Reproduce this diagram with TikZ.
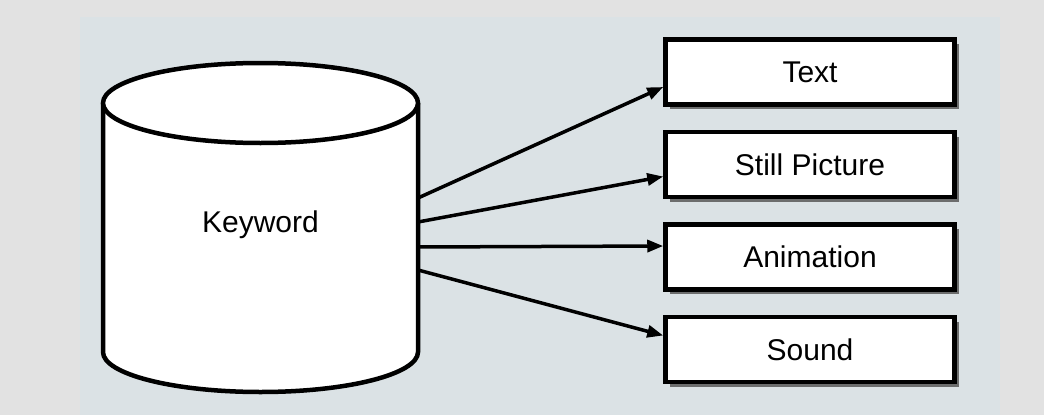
\documentclass[tikz,border=0pt]{standalone}
\usepackage{fontspec}
\setmainfont{Liberation Sans}
\usetikzlibrary{arrows.meta, positioning, calc, shadows}
\definecolor{bgout}{RGB}{226,226,226}
\definecolor{bgpanel}{RGB}{219,226,229}
\begin{document}
\begin{tikzpicture}[x=1pt, y=-1pt,
  font=\fontsize{30}{35}\selectfont,
  media/.style={rectangle, draw, line width=4.5pt, fill=white, inner sep=0pt,
                minimum width=289pt, minimum height=65pt,
                text height=21pt, text depth=0pt,
                drop shadow={shadow xshift=4.5pt, shadow yshift=-4.5pt,
                             fill=black!65, opacity=0.85}},
  arr/.style={-{Triangle[length=16pt, width=12pt]}, line width=3.5pt}]
  \useasboundingbox (0,0) rectangle (1044,415);
  \fill[bgout] (0,0) rectangle (1044,415);
  \fill[bgpanel] (80,17) rectangle (1000,415);
  % keyword store
  \draw[line width=4.5pt, fill=white] (103,103) -- (103,352)
    arc[start angle=180, end angle=360, x radius=157.5pt, y radius=40pt] -- (418,103);
  \draw[line width=4.5pt, fill=white] (260.5,103) ellipse [x radius=157.5pt, y radius=40pt];
  \node (kw) at (260.5,225) {Keyword};
  \coordinate (k1) at (418,198);
  \coordinate (k2) at (418,222);
  \coordinate (k3) at (418,247);
  \coordinate (k4) at (418,270);
  % media boxes
  \node[media] (text) at (810,72) {Text};
  \node[media, below=23pt of text] (still) {Still Picture};
  \node[media, below=23pt of still] (anim) {Animation};
  \node[media, below=23pt of anim] (sound) {Sound};
  \draw[arr] (k1) -- ($(text.west)+(0,15)$);
  \draw[arr] (k2) -- ($(still.west)+(0,12)$);
  \draw[arr] (k3) -- ($(anim.west)+(0,-11)$);
  \draw[arr] (k4) -- ($(sound.west)+(0,-14)$);
\end{tikzpicture}
\end{document}
